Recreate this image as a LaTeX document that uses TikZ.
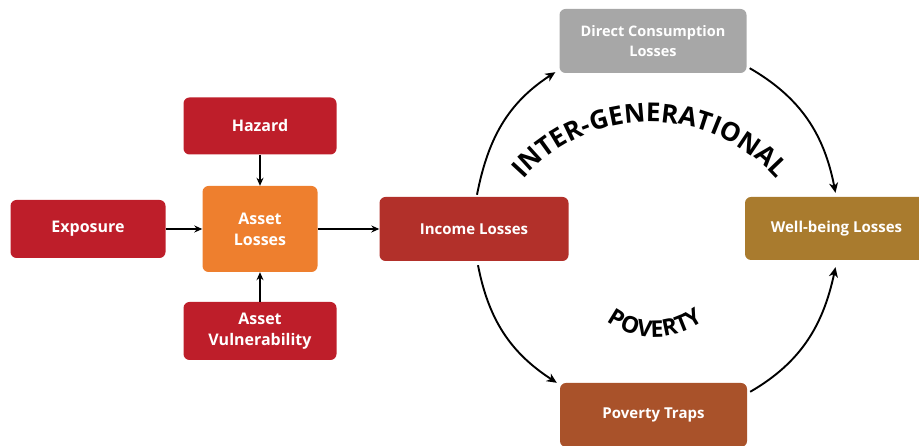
\documentclass[tikz,border=0pt]{standalone}
\usepackage{fontspec}
\setmainfont{Open Sans}
\usetikzlibrary{positioning,arrows.meta,decorations.text}
\definecolor{HazardRed}{HTML}{BE1E2A}
\definecolor{AssetOrange}{HTML}{EE7F2E}
\definecolor{IncomeRed}{HTML}{B2302A}
\definecolor{ConsGray}{HTML}{A7A7A7}
\definecolor{WellGold}{HTML}{A97B2E}
\definecolor{TrapBrown}{HTML}{A9522A}

\tikzset{
  box/.style={rounded corners=6pt, fill=#1, text=white, inner sep=0pt,
    align=center, font=\bfseries\fontsize{16}{21}\selectfont},
  link/.style={-{Stealth[length=8pt,width=7pt]}, line width=1.4pt},
  cycle/.style={-{Stealth[length=10pt,width=9pt,inset=3pt]}, line width=1.9pt}
}

\begin{document}
\begin{tikzpicture}[x=1pt,y=1pt]
  \useasboundingbox (0,0) rectangle (919,446);

  \node[box=HazardRed, minimum width=153pt, minimum height=57pt] (haz) at (260,320) {Hazard};
  \node[box=HazardRed, minimum width=155pt, minimum height=58pt] (exp) at (88,217) {Exposure};
  \node[box=AssetOrange, minimum width=115pt, minimum height=86pt] (al) at (260,217) {Asset\\Losses};
  \node[box=HazardRed, minimum width=153pt, minimum height=58pt] (vul) at (260,115) {Asset\\Vulnerability};
  \node[box=IncomeRed, minimum width=189pt, minimum height=64pt,
    font=\bfseries\fontsize{15}{18}\selectfont] (inc) at (474,217) {Income Losses};
  \node[box=ConsGray, minimum width=187pt, minimum height=64pt,
    font=\bfseries\fontsize{14.5}{20}\selectfont] (dc) at (653,405) {Direct Consumption\\Losses};
  \node[box=WellGold, minimum width=183pt, minimum height=63pt,
    font=\bfseries\fontsize{15}{18}\selectfont] (wb) at (836.5,217.5) {Well-being Losses};
  \node[box=TrapBrown, minimum width=187pt, minimum height=64pt,
    font=\bfseries\fontsize{15}{18}\selectfont] (pt) at (653.5,31) {Poverty Traps};

  \draw[link] (haz) -- (al);
  \draw[link] (exp) -- (al);
  \draw[link] (vul) -- (al);
  \draw[link, line width=2.4pt] (al) -- (inc);

  \draw[cycle] ([xshift=3pt,yshift=2pt]inc.north) to[out=79,in=213] ([xshift=-4pt,yshift=1pt]dc.south west);
  \draw[cycle] ([xshift=3pt,yshift=5pt]dc.south east) to[out=-30,in=101] ([xshift=-1pt,yshift=4pt]wb.north);
  \draw[cycle] ([xshift=4pt,yshift=-4pt]inc.south) to[out=-79,in=147] ([xshift=-3pt,yshift=0pt]pt.north west);
  \draw[cycle] ([xshift=3pt,yshift=-9pt]pt.north east) to[out=30,in=258] ([xshift=-1pt,yshift=-7pt]wb.south);

  \path[decorate, decoration={text along path, text align=center,
    text={|\bfseries\fontsize{26}{26}\selectfont|INTER-GENERATIONAL}}]
    (650,155) ++(142:169) arc[start angle=142, end angle=38, radius=169];
  \path[decorate, decoration={text along path, text align=center,
    text={|\bfseries\fontsize{23}{23}\selectfont|POVERTY}}]
    (655,190) ++(220:81) arc[start angle=220, end angle=320, radius=81];
\end{tikzpicture}
\end{document}
